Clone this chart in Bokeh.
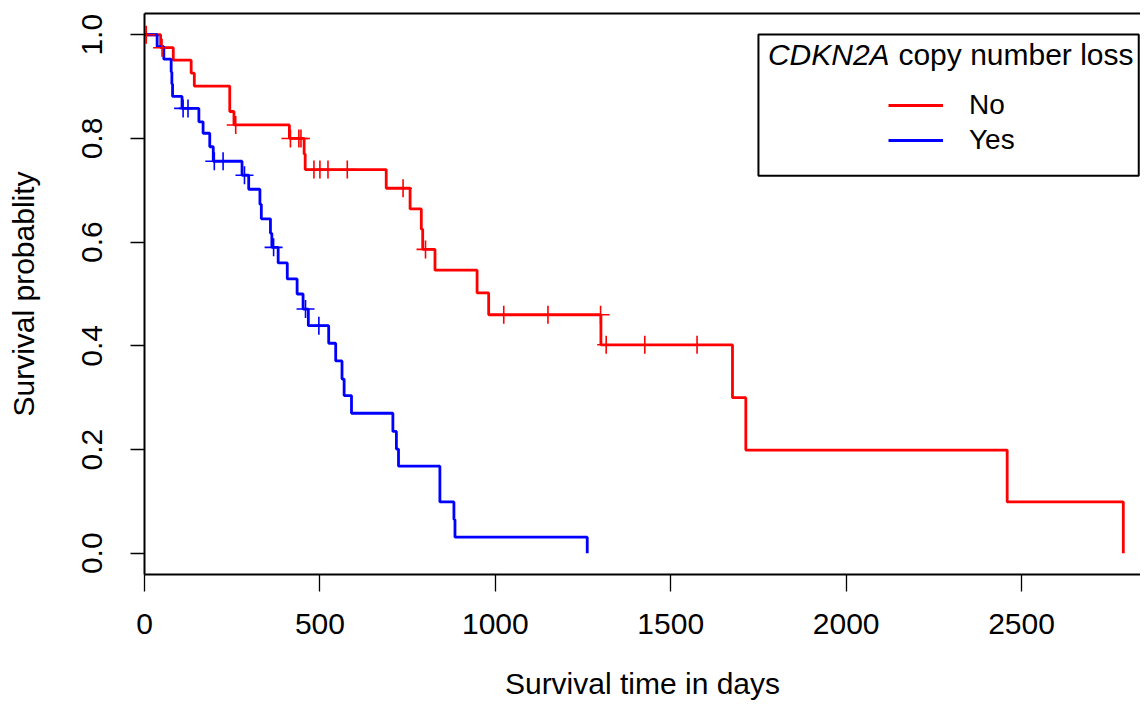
from bokeh.plotting import figure
from bokeh.models import (Range1d, FixedTicker, Legend, LegendItem, Label,
                          BoxAnnotation, NumeralTickFormatter, LinearAxis)
from bokeh.embed import file_html
from bokeh.resources import INLINE

# ---------------- data ----------------
# CDKN2A copy number loss = "No" (red)
no_time = [0, 46, 82, 133, 142, 243, 255, 413, 455, 458, 689, 757, 789, 793,
           828, 948, 981, 1301, 1676, 1714, 2459, 2790]
no_surv = [1.0, 0.975, 0.951, 0.926, 0.901, 0.852, 0.826, 0.800, 0.770, 0.740,
           0.704, 0.664, 0.625, 0.586, 0.546, 0.502, 0.460, 0.402, 0.300,
           0.199, 0.099, 0.0]
no_cens_time = [5, 50, 260, 416, 440, 446, 483, 500, 523, 578, 737, 801,
                1024, 1150, 1300, 1316, 1426, 1575]
no_cens_surv = [1.0, 0.975, 0.826, 0.800, 0.800, 0.800, 0.740, 0.740, 0.740,
                0.740, 0.704, 0.586, 0.460, 0.460, 0.460, 0.402, 0.402, 0.402]

# CDKN2A copy number loss = "Yes" (blue)
yes_time = [0, 36, 55, 76, 78, 80, 107, 155, 167, 186, 196, 278, 297, 329, 333,
            359, 363, 381, 407, 435, 452, 467, 525, 545, 563, 569, 590, 708,
            718, 724, 842, 882, 885, 1262]
yes_surv = [1.0, 0.977, 0.953, 0.928, 0.905, 0.881, 0.858, 0.832, 0.810, 0.784,
            0.756, 0.729, 0.702, 0.673, 0.645, 0.617, 0.590, 0.560, 0.529,
            0.500, 0.471, 0.439, 0.405, 0.371, 0.336, 0.304, 0.270, 0.235,
            0.201, 0.168, 0.099, 0.065, 0.031, 0.0]
yes_cens_time = [110, 124, 199, 224, 285, 368, 459, 497]
yes_cens_surv = [0.858, 0.858, 0.756, 0.756, 0.729, 0.590, 0.471, 0.439]

x_ticks = [0, 500, 1000, 1500, 2000, 2500]
y_ticks = [0.0, 0.2, 0.4, 0.6, 0.8, 1.0]
group_labels = ["No", "Yes"]
legend_title_italic = "CDKN2A"
legend_title_rest = "copy number loss"
x_label = "Survival time in days"
y_label = "Survival probablity"

# ---------------- figure ----------------
FONT = "Liberation Sans"

p = figure(width=1140, height=703, output_backend="svg", toolbar_location=None,
           x_range=Range1d(0, 2839), y_range=Range1d(-0.041, 1.041),
           min_border_left=144, min_border_right=0, min_border_top=13,
           min_border_bottom=129)
p.background_fill_color = "white"
p.border_fill_color = "white"
p.outline_line_color = None
p.xgrid.visible = False
p.ygrid.visible = False

r_no = p.step(no_time, no_surv, mode="after", line_color="#ff0000", line_width=2.8)
r_yes = p.step(yes_time, yes_surv, mode="after", line_color="#0000ff", line_width=2.8)
p.scatter(no_cens_time, no_cens_surv, marker="cross", size=18,
          line_color="#ff0000", line_width=1.6)
p.scatter(yes_cens_time, yes_cens_surv, marker="cross", size=18,
          line_color="#0000ff", line_width=1.6)

xa = p.below[0]
ya = p.left[0]

# top border line of the box
top_axis = LinearAxis(ticker=FixedTicker(ticks=[]), major_tick_line_color=None,
                      minor_tick_line_color=None, major_label_text_font_size="0px",
                      axis_line_width=2, axis_line_color="black")
p.add_layout(top_axis, "above")

# axes
for ax in (xa, ya):
    ax.major_tick_in = 0
    ax.minor_tick_line_color = None
    ax.axis_line_width = 2
    ax.axis_line_color = "black"
    ax.major_tick_line_color = "black"
    ax.major_tick_line_width = 1.3
    ax.major_label_text_font = FONT
    ax.major_label_text_font_size = "30px"
    ax.major_label_text_color = "black"
    ax.axis_label_text_font = FONT
    ax.axis_label_text_font_size = "30px"
    ax.axis_label_text_font_style = "normal"
    ax.axis_label_text_color = "black"

xa.ticker = FixedTicker(ticks=x_ticks)
xa.major_tick_out = 17
xa.major_label_standoff = 22
xa.axis_label = x_label
xa.axis_label_standoff = 30

ya.ticker = FixedTicker(ticks=y_ticks)
ya.formatter = NumeralTickFormatter(format="0.0")
ya.major_tick_out = 14
ya.major_label_orientation = "vertical"
ya.major_label_standoff = 28
ya.axis_label = y_label
ya.axis_label_standoff = 40

# legend box
box = BoxAnnotation(left=1750, right=2834, top=1.0004, bottom=0.7283,
                    fill_color="white", fill_alpha=1.0,
                    line_color="black", line_alpha=1.0, line_width=2)
p.add_layout(box)
p.add_layout(Label(x=1777, y=0.962, text=legend_title_italic,
                   text_font=FONT, text_font_size="30px",
                   text_font_style="italic", text_baseline="middle",
                   text_color="black"))
p.add_layout(Label(x=2149, y=0.962, text=legend_title_rest,
                   text_font=FONT, text_font_size="30px",
                   text_baseline="middle", text_color="black"))

legend = Legend(items=[LegendItem(label=group_labels[0], renderers=[r_no]),
                       LegendItem(label=group_labels[1], renderers=[r_yes])],
                location=(744, 418), orientation="vertical", padding=0,
                margin=0, spacing=3, glyph_width=55, glyph_height=32,
                label_height=32, label_standoff=26,
                label_text_font=FONT, label_text_font_size="28px",
                label_text_color="black",
                border_line_color=None, background_fill_alpha=0)
p.add_layout(legend)

open("out.html", "w").write(file_html(p, INLINE))
